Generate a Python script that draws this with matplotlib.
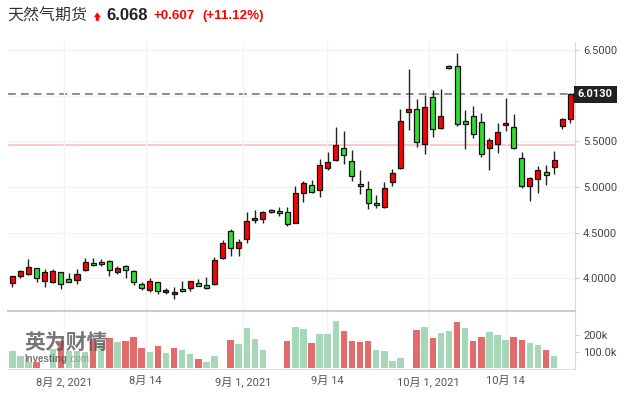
import numpy as np
import matplotlib.pyplot as plt
from matplotlib.patches import Polygon

# daily candles, oldest first
opens = [3.945, 4.025, 4.047, 4.109, 3.967, 3.962, 4.065, 3.988, 3.978, 4.090,
         4.164, 4.178, 4.186, 4.065, 4.131, 4.079, 3.934, 3.868, 3.956, 3.846,
         3.824, 3.882, 3.890, 3.945, 3.926, 3.940, 4.218, 4.518, 4.328, 4.427,
         4.638, 4.646, 4.744, 4.733, 4.722, 4.609, 4.930, 5.018, 4.963, 5.211,
         5.292, 5.423, 5.281, 5.029, 4.974, 4.821, 4.777, 5.054, 5.204, 5.818,
         5.857, 5.467, 5.982, 5.642, 6.321, 6.321, 5.719, 5.774, 5.708, 5.423,
         5.467, 5.675, 5.653, 5.314, 5.007, 5.084, 5.160, 5.215, 5.664, 5.741]
closes = [4.021, 4.079, 4.123, 4.000, 4.065, 4.076, 3.937, 3.956, 4.043, 4.175,
          4.142, 4.153, 4.090, 4.109, 4.087, 3.956, 3.890, 3.967, 3.857, 3.871,
          3.846, 3.857, 3.967, 3.918, 3.897, 4.197, 4.386, 4.328, 4.394, 4.627,
          4.660, 4.722, 4.722, 4.711, 4.591, 4.930, 5.040, 4.948, 5.237, 5.273,
          5.463, 5.347, 5.117, 5.007, 4.821, 4.799, 4.985, 5.150, 5.719, 5.850,
          5.489, 5.872, 5.631, 5.774, 6.300, 5.686, 5.686, 5.577, 5.358, 5.511,
          5.599, 5.697, 5.423, 5.007, 5.095, 5.182, 5.128, 5.292, 5.741, 6.013]
highs = [4.030, 4.090, 4.208, 4.116, 4.105, 4.105, 4.072, 4.054, 4.098, 4.218,
         4.218, 4.208, 4.200, 4.137, 4.142, 4.090, 3.962, 4.006, 3.962, 3.890,
         3.901, 3.970, 3.973, 3.995, 4.014, 4.229, 4.416, 4.539, 4.427, 4.722,
         4.748, 4.737, 4.755, 4.784, 4.784, 5.014, 5.065, 5.073, 5.303, 5.383,
         5.653, 5.613, 5.405, 5.182, 5.062, 4.908, 5.051, 5.197, 5.857, 6.289,
         5.960, 6.004, 6.059, 6.070, 6.336, 6.467, 5.843, 5.887, 5.807, 5.533,
         5.697, 5.971, 5.796, 5.380, 5.106, 5.226, 5.237, 5.390, 5.752, 6.026]
lows = [3.900, 4.006, 4.032, 3.962, 3.901, 3.945, 3.879, 3.956, 3.934, 4.083,
        4.134, 4.134, 4.025, 4.043, 4.000, 3.926, 3.868, 3.846, 3.824, 3.824,
        3.769, 3.849, 3.860, 3.918, 3.886, 3.923, 4.210, 4.244, 4.244, 4.389,
        4.602, 4.602, 4.718, 4.685, 4.576, 4.602, 4.838, 4.930, 4.893, 5.186,
        5.284, 5.248, 5.065, 4.923, 4.755, 4.769, 4.769, 5.014, 5.197, 5.620,
        5.434, 5.358, 5.544, 5.631, 6.290, 5.671, 5.412, 5.533, 5.325, 5.182,
        5.369, 5.616, 5.412, 4.985, 4.843, 4.930, 5.018, 5.139, 5.631, 5.697]

# volume in thousands (nan = no bar), and bar colour g/r
volume = [105, 73, 41, 41, 5, 115, 165, 105, 105, 100,
          178, 150, 181, 157, 166, 187, 121, 97, 133, 91,
          121, 111, 85, 57, 37, 73, 5, 171, 145, 241,
          177, 111, np.nan, np.nan, 165, 247, 235, 151, 207, 207,
          284, 225, 165, 159, 165, 111, 105, 45, 63, 3,
          231, 249, 183, 213, 225, 278, 243, 165, 189, 219,
          201, 171, 189, 171, 153, 141, 111, 75]
vol_dir = "gggrggrgggrgrgrrrgrgrggrgggrgggg--rggrgggrrrrgggggrgrggrgrrgggrrggrg"

tick_pos = [6.4, 16.5, 28.5, 38.9, 51.5, 61.0]
tick_labels = ["8月 2, 2021", "8月 14", "9月 1, 2021", "9月 14", "10月 1, 2021", "10月 14"]
price_ticks = [4.0, 4.5, 5.0, 5.5, 6.0, 6.5]
last_close = 6.013
prev_close = 5.461

o = np.array(opens); c = np.array(closes)
x = np.arange(len(o))
up = c >= o
body_col = np.where(up, '#ff0000', '#30de30')

W, H = 629, 394
fig = plt.figure(figsize=(W / 100, H / 100), dpi=100)
fig.patch.set_facecolor('white')

ax = fig.add_axes([8.3 / W, 83 / H, 567 / W, 269 / H])
axv = fig.add_axes([8.3 / W, 25 / H, 567 / W, 58 / H], sharex=ax)

tickfont = ['Roboto', 'Noto Sans CJK SC']

# price panel
ax.vlines(x, lows, highs, color='#222222', lw=1.0, zorder=2)
ax.bar(x, np.maximum(np.abs(c - o), 0.012), bottom=np.minimum(o, c), width=0.62,
       color=body_col, edgecolor='#111111', linewidth=0.9, zorder=3)
ax.axhline(prev_close, color='#ffc4c4', lw=1.3, zorder=1)
ax.axhline(last_close, color='#8c8c8c', lw=1.4, ls=(0, (4, 2.6)), zorder=1.5)
ax.set_xlim(-0.495, 69.62)
ax.set_ylim(3.6413, 6.5876)
ax.set_yticks(price_ticks)
ax.set_yticklabels(['%.4f' % p if p != 6.0 else '' for p in price_ticks])
ax.set_xticks(tick_pos)
ax.yaxis.tick_right()
ax.tick_params(axis='y', length=3, width=0.8, color='#cccccc', pad=2.5,
               labelsize=8, labelcolor='#444444')
ax.tick_params(axis='x', length=0, labelbottom=False)
for lab in ax.get_yticklabels():
    lab.set_family(tickfont)
ax.grid(True, color='#f3f3f3', lw=1.0, zorder=0)
for s in ['top', 'left', 'bottom']:
    ax.spines[s].set_visible(False)
ax.spines['right'].set_color('#d9d9d9')
ax.text(69.95, last_close, '%.4f' % last_close, ha='left', va='center', fontsize=8,
        fontweight='bold', color='white', family=tickfont, clip_on=False, zorder=10,
        bbox=dict(boxstyle='square,pad=0.32', fc='#222222', ec='none'))

# volume panel
vol = np.array(volume, dtype=float)
vx = np.arange(len(vol))
m = ~np.isnan(vol)
vcol = ['#e26b6b' if d == 'r' else '#a6d7b6' for d in vol_dir]
axv.bar(vx[m], vol[m], width=0.8, color=[vcol[i] for i in vx[m]], zorder=2)
axv.set_ylim(-3, 344)
axv.set_yticks([100, 200])
axv.set_yticklabels(['100.0k', '200k'])
axv.yaxis.tick_right()
axv.set_xticks(tick_pos)
axv.set_xticklabels(tick_labels)
axv.tick_params(axis='y', length=3, width=0.8, color='#cccccc', pad=2.5,
                labelsize=8, labelcolor='#444444')
axv.tick_params(axis='x', length=0, pad=5, labelsize=8, labelcolor='#555555')
for lab in axv.get_xticklabels() + axv.get_yticklabels():
    lab.set_family(tickfont)
axv.grid(True, axis='x', color='#f3f3f3', lw=1.0, zorder=0)
axv.spines['top'].set_color('#cccccc')
axv.spines['top'].set_linewidth(1.5)
axv.spines['left'].set_visible(False)
axv.spines['bottom'].set_color('#dddddd')
axv.spines['right'].set_color('#d9d9d9')

# watermark
fig.text(24 / W, 1 - 342 / H, '英为财情', fontsize=15, fontweight='bold', color='#555555',
         alpha=0.8, family=['Noto Sans CJK SC'], va='center', ha='left')
fig.text(24 / W, 1 - 358.5 / H, 'Investing', fontsize=7, fontweight='bold', color='#555555',
         alpha=0.8, family=['Liberation Sans'], va='center', ha='left')
fig.text(68 / W, 1 - 358.5 / H, '.com', fontsize=7, color='#888888',
         alpha=0.8, family=['Liberation Sans'], va='center', ha='left')

# header
fig.text(7 / W, 1 - 16 / H, '天然气期货', fontsize=11.5, color='#333333',
         family=['Noto Sans CJK SC'], va='center', ha='left')
arrow = [(97.3, 12.3), (100.8, 17.3), (98.9, 17.3), (98.9, 20.8),
         (95.8, 20.8), (95.8, 17.3), (93.9, 17.3)]
fig.add_artist(Polygon([(px / W, 1 - py / H) for px, py in arrow], closed=True,
                       fc='#ff0000', ec='none', transform=fig.transFigure))
fig.text(106 / W, 1 - 16 / H, '6.068', fontsize=12, fontweight='bold', color='#222222',
         family=['Liberation Sans'], va='center', ha='left')
fig.text(153 / W, 1 - 16 / H, '+0.607', fontsize=9.6, fontweight='bold', color='#ff0000',
         family=['Liberation Sans'], va='center', ha='left')
fig.text(202 / W, 1 - 16 / H, '(+11.12%)', fontsize=9.6, fontweight='bold', color='#ff0000',
         family=['Liberation Sans'], va='center', ha='left')

fig.savefig('out.png', dpi=100)
